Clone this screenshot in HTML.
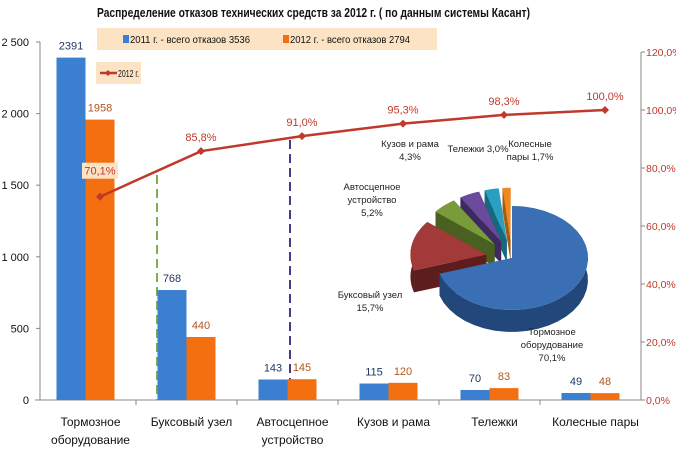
<!DOCTYPE html>
<html><head><meta charset="utf-8"><style>
body{margin:0;background:#fff;}
svg text{font-family:"Liberation Sans","Noto Sans CJK SC",sans-serif;}
</style></head><body>
<svg id="c" width="676" height="453" viewBox="0 0 676 453" xmlns="http://www.w3.org/2000/svg">
<text x="97" y="17" font-size="12.5" font-weight="bold" fill="#111" textLength="433" lengthAdjust="spacingAndGlyphs">Распределение отказов технических средств за 2012 г. ( по данным системы Касант)</text>
<g>
<rect x="97" y="28" width="340" height="22" fill="#fbe3c4"/>
<rect x="123" y="35" width="6" height="8" fill="#3a7fd0"/>
<text x="130" y="43" font-size="10.5" fill="#111" textLength="120" lengthAdjust="spacingAndGlyphs">2011 г. - всего отказов 3536</text>
<rect x="283" y="35" width="6" height="8" fill="#f36f10"/>
<text x="290" y="43" font-size="10.5" fill="#111" textLength="120" lengthAdjust="spacingAndGlyphs">2012 г. - всего отказов 2794</text>
<rect x="96" y="62" width="45" height="22" fill="#fbe3c4"/>
<line x1="100" y1="73" x2="117" y2="73" stroke="#c0392b" stroke-width="2.5"/>
<path d="M108 70 L111 73 L108 76 L105 73Z" fill="#c0392b"/>
<text x="118" y="77" font-size="10" fill="#111" textLength="21" lengthAdjust="spacingAndGlyphs">2012 г.</text>
</g>
<g id="axes"></g>
<g id="bars"></g>
<g id="line"></g>
<g id="pie"></g>
</svg>
<script>
const categories=[["Тормозное","оборудование"],["Буксовый узел"],["Автосцепное","устройство"],["Кузов и рама"],["Тележки"],["Колесные пары"]];
const values2011=[2391,768,143,115,70,49];
const values2012=[1958,440,145,120,83,48];
const cumulative=[70.1,85.8,91.0,95.3,98.3,100.0];
const leftTicks=[0,500,1000,1500,2000,2500];
const leftTickLabels=["0","500","1 000","1 500","2 000","2 500"];
const rightTicks=[0,20,40,60,80,100,120];
const pieLabels=[["Тормозное","оборудование","70,1%"],["Буксовый узел","15,7%"],["Автосцепное","устройство","5,2%"],["Кузов и рама","4,3%"],["Тележки 3,0%"],["Колесные","пары 1,7%"]];
const pieValues=[70.1,15.7,5.2,4.3,3.0,1.7];

const NS="http://www.w3.org/2000/svg";
function mk(p,t,a,txt){const e=document.createElementNS(NS,t);for(const k in a)e.setAttribute(k,a[k]);if(txt!==undefined)e.textContent=txt;p.appendChild(e);return e;}
const X0=35,X1=641,Y0=400,band=(X1-X0)/categories.length;
const yL=v=>Y0-v*(358/2500);
const yR=p=>Y0-p*(348/120);
const cx=i=>X0+band*(i+0.5);

const ax=document.getElementById('axes');
let e;
e=mk(ax,'line',{x1:X0,y1:Y0,x2:X1,y2:Y0,stroke:'#888'});


e=mk(ax,'line',{x1:40,y1:yL(2500),x2:40,y2:Y0,stroke:'#888'});


e=mk(ax,'line',{x1:641,y1:yR(120),x2:641,y2:Y0,stroke:'#888'});


leftTicks.forEach((v,i)=>{
 mk(ax,'line',{x1:36,y1:yL(v),x2:40,y2:yL(v),stroke:'#888'});
 e=mk(ax,'text',{x:29,y:yL(v)+4,'font-size':11,'text-anchor':'end',fill:'#111'},leftTickLabels[i]);
 
 
});
rightTicks.forEach(v=>{
 mk(ax,'line',{x1:641,y1:yR(v),x2:645,y2:yR(v),stroke:'#888'});
 e=mk(ax,'text',{x:646,y:yR(v)+4,'font-size':10.5,fill:'#c0392b'},v.toFixed(1).replace('.',',')+'%');
 
 
});
categories.forEach((c,i)=>{
 if(i>0)mk(ax,'line',{x1:X0+band*i,y1:Y0,x2:X0+band*i,y2:Y0+5,stroke:'#888'});
 c.forEach((s,j)=>{
  e=mk(ax,'text',{x:cx(i)+5,y:426+j*18,'font-size':12,'text-anchor':'middle',fill:'#111'},s);
  
  
 });
});
e=mk(ax,'line',{x1:157,y1:175,x2:157,y2:Y0,stroke:'#7fae4e','stroke-width':2,'stroke-dasharray':'9,5'});


e=mk(ax,'line',{x1:290,y1:140,x2:290,y2:Y0,stroke:'#4a3a8a','stroke-width':2,'stroke-dasharray':'9,5'});



const bg=document.getElementById('bars');
const bw=29;
categories.forEach((c,i)=>{
 const x=cx(i);
 e=mk(bg,'rect',{x:x-bw,y:yL(values2011[i]),width:bw,height:Y0-yL(values2011[i]),fill:'#3a7fd0'});
 
 
 e=mk(bg,'rect',{x:x,y:yL(values2012[i]),width:bw,height:Y0-yL(values2012[i]),fill:'#f36f10'});
 
 
 e=mk(bg,'text',{x:x-bw/2,y:yL(values2011[i])-8,'font-size':11,'text-anchor':'middle',fill:'#1f3864'},values2011[i]);
 
 
 e=mk(bg,'text',{x:x+bw/2,y:yL(values2012[i])-8,'font-size':11,'text-anchor':'middle',fill:'#b0561b'},values2012[i]);
 
 
});

const lg=document.getElementById('line');
const pts=cumulative.map((p,i)=>[cx(i)+bw/2,yR(p)]);
e=mk(lg,'polyline',{points:pts.map(p=>p.join(',')).join(' '),fill:'none',stroke:'#c0392b','stroke-width':2.5});


pts.forEach((p,i)=>{
 e=mk(lg,'path',{d:`M${p[0]} ${p[1]-4}L${p[0]+4} ${p[1]}L${p[0]} ${p[1]+4}L${p[0]-4} ${p[1]}Z`,fill:'#c0392b'});
 
 
 const lab=cumulative[i].toFixed(1).replace('.',',')+'%';
 if(i===0){mk(lg,'rect',{x:p[0]-18,y:p[1]-34,width:36,height:16,fill:'#fbe3c4'});}
 e=mk(lg,'text',{x:p[0],y:i===0?p[1]-22:p[1]-10,'font-size':11,'text-anchor':'middle',fill:'#c0392b'},lab);
 
 
});

// pie
const pg=document.getElementById('pie');
const PCX=512,PCY=258,RX=76,RY=52,D=22;
const cols=['#3a6fb5','#a33a3a','#7a9b3a','#6a4a9a','#2aa0c0','#f08a20'];
const dark=['#22477a','#5e1d1d','#4a6020','#3e2a60','#16687e','#a85a10'];
const total=pieValues.reduce((a,b)=>a+b,0);
let acc=0;
const pt=(a,ox,oy,dy)=>[PCX+ox+RX*Math.sin(a),PCY+oy-RY*Math.cos(a)+(dy||0)];
const slices=pieValues.map((v,i)=>{const a0=acc/total*2*Math.PI;acc+=v;const a1=acc/total*2*Math.PI;const m=(a0+a1)/2;const ex=i===0?0:26;return{a0,a1,ox:ex*Math.sin(m),oy:-ex*Math.cos(m)*0.7};});
// draw back-to-front: small slices first, blue last
const order=[5,4,3,2,1,0];
order.forEach(i=>{
 const s=slices[i];
 const N=30;let d='';
 for(let k=0;k<=N;k++){const a=s.a0+(s.a1-s.a0)*k/N;const p=pt(a,s.ox,s.oy);d+=(k?'L':'M')+p[0]+' '+p[1];}
 for(let k=N;k>=0;k--){const a=s.a0+(s.a1-s.a0)*k/N;const p=pt(a,s.ox,s.oy,D);d+='L'+p[0]+' '+p[1];}
 const c=[PCX+s.ox,PCY+s.oy];
 const p0=pt(s.a0,s.ox,s.oy),p1=pt(s.a1,s.ox,s.oy);
 mk(pg,'path',{d:`M${c[0]} ${c[1]}L${p0[0]} ${p0[1]}L${p0[0]} ${p0[1]+D}L${c[0]} ${c[1]+D}Z`,fill:dark[i]});
 mk(pg,'path',{d:`M${c[0]} ${c[1]}L${p1[0]} ${p1[1]}L${p1[0]} ${p1[1]+D}L${c[0]} ${c[1]+D}Z`,fill:dark[i]});
 mk(pg,'path',{d:d+'Z',fill:dark[i]});
 let d2=`M${c[0]} ${c[1]}`;
 for(let k=0;k<=N;k++){const a=s.a0+(s.a1-s.a0)*k/N;const p=pt(a,s.ox,s.oy);d2+='L'+p[0]+' '+p[1];}
 e=mk(pg,'path',{d:d2+'Z',fill:cols[i]});
 
 
});
const labPos=[[552,335],[370,298],[372,190],[410,147],[478,152],[530,147]];
pieLabels.forEach((ls,i)=>{
 ls.forEach((s,j)=>{
  e=mk(pg,'text',{x:labPos[i][0],y:labPos[i][1]+j*13,'font-size':9.5,'text-anchor':'middle',fill:'#222'},s);
  
  
 });
});
</script>
</body></html>
